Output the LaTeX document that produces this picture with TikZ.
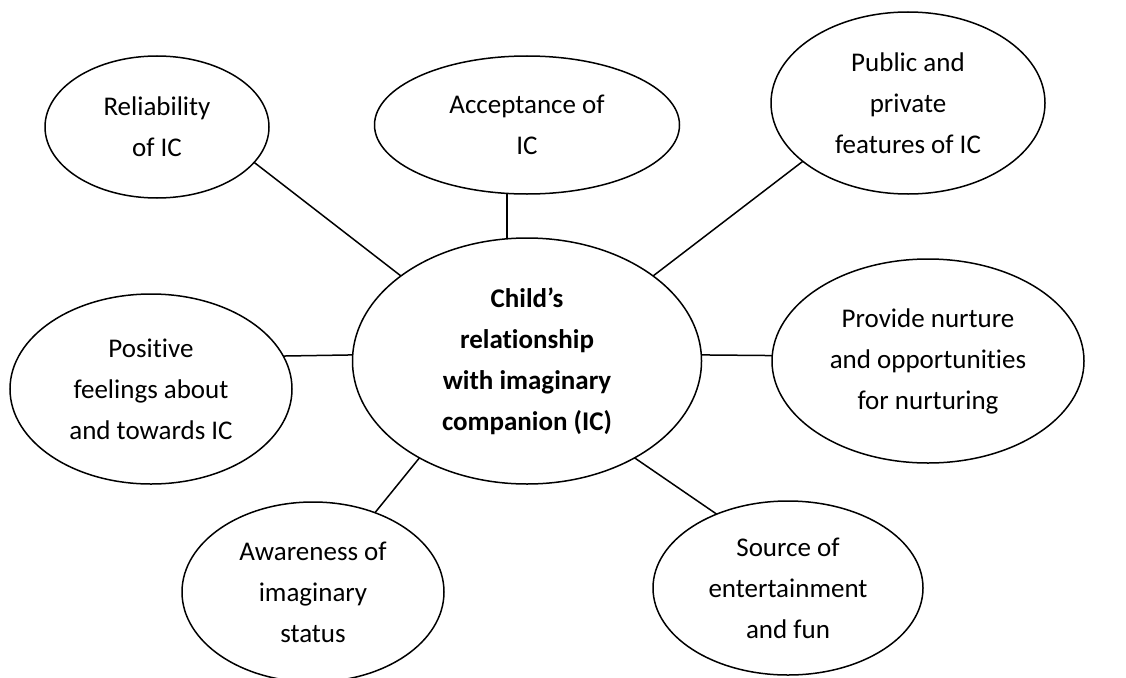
\documentclass[tikz,border=0pt]{standalone}
\usepackage{fontspec}
\setmainfont{Carlito}[Ligatures=NoCommon]
\usetikzlibrary{shapes.geometric}

\begin{document}
\begin{tikzpicture}[
    x=1pt, y=-1pt,
    font=\fontsize{27}{41}\selectfont,
    bubble/.style ={ellipse, draw=black, line width=1.5pt, inner sep=0pt,
                    outer sep=0pt, align=center},
    hub/.style    ={bubble, font=\fontsize{27}{41}\selectfont\bfseries},
    link/.style   ={draw=black, line width=1.5pt},
]
\useasboundingbox (0,0) rectangle (1126,677);

% ---- Centre ----
\node[hub, minimum width=349pt, minimum height=246pt] (ctr) at (527,361)
   {Child’s\\relationship\\with imaginary\\companion (IC)};

% ---- Surrounding themes ----
\node[bubble, minimum width=224pt, minimum height=142pt] (rel)  at (157,127)
   {Reliability\\of IC};
\node[bubble, minimum width=305pt, minimum height=138pt] (acc)  at (527,125)
   {Acceptance of\\IC};
\node[bubble, minimum width=274pt, minimum height=182pt] (pub)  at (908,103)
   {Public and\\private\\features of IC};
\node[bubble, minimum width=282pt, minimum height=190pt] (pos)  at (151,389)
   {Positive\\feelings about\\and towards IC};
\node[bubble, minimum width=312pt, minimum height=204pt] (prov) at (928,361)
   {Provide nurture\\and opportunities\\for nurturing};
\node[bubble, minimum width=262pt, minimum height=180pt] (awa)  at (313,592)
   {Awareness of\\imaginary\\status};
\node[bubble, minimum width=270pt, minimum height=174pt] (src)  at (788,588)
   {Source of\\entertainment\\and fun};

% ---- Links ----
\foreach \a/\b in {rel.-20/ctr.146, pub.-151/ctr.34, pos.14/ctr.178,
                   ctr.2/prov.178, ctr.222/awa.52, ctr.-42/src.134} {
   \draw[link] (\a) -- (\b);
}
\draw[link] ([xshift=-20pt]acc.south) -- ([xshift=-20pt]ctr.north);

\end{tikzpicture}
\end{document}
